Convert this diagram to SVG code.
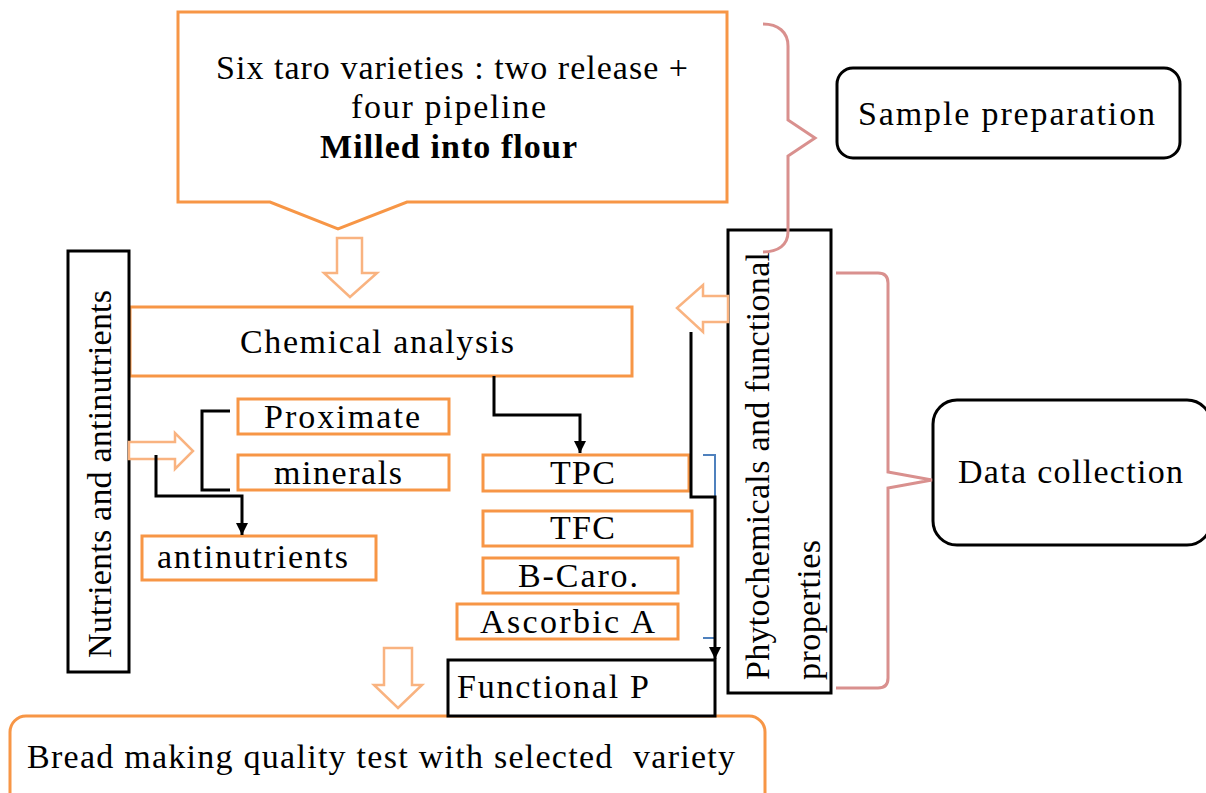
<svg xmlns="http://www.w3.org/2000/svg" width="1206" height="793" viewBox="0 0 1206 793">
<style>
  text { font-family: "Liberation Serif", "Times New Roman", serif; font-size: 34px; fill: #000; }
  .ob { fill: #fff; stroke: #F79646; stroke-width: 3; }
  .bb { fill: #fff; stroke: #000; stroke-width: 3; }
  .ha { fill: #fff; stroke: #F9B380; stroke-width: 2.5; stroke-linejoin: miter; }
  .br { fill: none; stroke: #D9908E; stroke-width: 3; }
  .cn { fill: none; stroke: #000; stroke-width: 3; }
</style>
<defs>
  <marker id="ah" markerUnits="userSpaceOnUse" markerWidth="14" markerHeight="14" refX="12" refY="6" orient="auto">
    <path d="M0,0 L12,6 L0,12 Z" fill="#000"/>
  </marker>
</defs>

<g id="top-callout">
  <path class="ob" d="M178,12 H727 V202 H407 L338,229 L270,202 H178 Z"/>
  <text x="216" y="79" textLength="472" lengthAdjust="spacing">Six taro varieties : two release +</text>
  <text x="351" y="118" textLength="195" lengthAdjust="spacing">four pipeline</text>
  <text x="320" y="158" textLength="257" lengthAdjust="spacing" font-weight="bold">Milled into flour</text>
</g>

<g id="sample-preparation">
  <rect class="bb" x="837" y="68" width="343" height="90" rx="16"/>
  <text x="858" y="125" textLength="297" lengthAdjust="spacing">Sample preparation</text>
</g>

<g id="data-collection">
  <rect class="bb" x="933" y="400" width="278" height="145" rx="24"/>
  <text x="958" y="483" textLength="225" lengthAdjust="spacing">Data collection</text>
</g>

<g id="chemical-analysis">
  <rect class="ob" x="130" y="307" width="502" height="69"/>
  <text x="240" y="353" textLength="274" lengthAdjust="spacing">Chemical analysis</text>
</g>

<g id="nutrients">
  <rect class="bb" x="68" y="251" width="61" height="421"/>
  <text transform="translate(111,658) rotate(-90)" textLength="368" lengthAdjust="spacing">Nutrients and antinutrients</text>
</g>

<g id="proximate">
  <rect class="ob" x="238" y="399" width="211" height="35"/>
  <text x="264" y="428" textLength="156" lengthAdjust="spacing">Proximate</text>
</g>

<g id="minerals">
  <rect class="ob" x="238" y="455" width="211" height="35"/>
  <text x="274" y="484" textLength="128" lengthAdjust="spacing">minerals</text>
</g>

<g id="antinutrients">
  <rect class="ob" x="142" y="536" width="234" height="44"/>
  <text x="157" y="568" textLength="191" lengthAdjust="spacing">antinutrients</text>
</g>

<g id="tpc">
  <rect class="ob" x="483" y="455" width="206" height="36"/>
  <text x="550" y="484" textLength="65" lengthAdjust="spacing">TPC</text>
</g>

<g id="tfc">
  <rect class="ob" x="483" y="511" width="209" height="35"/>
  <text x="550" y="539" textLength="65" lengthAdjust="spacing">TFC</text>
</g>

<g id="b-caro">
  <rect class="ob" x="483" y="558" width="195" height="35"/>
  <text x="518" y="587" textLength="120" lengthAdjust="spacing">B-Caro.</text>
</g>

<g id="ascorbic">
  <rect class="ob" x="457" y="604" width="221" height="35"/>
  <text x="480" y="633" textLength="175" lengthAdjust="spacing">Ascorbic A</text>
</g>

<g id="phytochemicals">
  <rect class="bb" x="728" y="230" width="103" height="463"/>
  <text transform="translate(769,680) rotate(-90)" textLength="428" lengthAdjust="spacing">Phytochemicals and functional</text>
  <text transform="translate(820,680) rotate(-90)" textLength="140" lengthAdjust="spacing">properties</text>
</g>

<g id="bread">
  <rect class="ob" x="10" y="716" width="755" height="110" rx="16"/>
  <text x="27" y="768" textLength="708" lengthAdjust="spacing" xml:space="preserve">Bread making quality test with selected  variety</text>
</g>

<g id="functional-p">
  <rect class="bb" x="448" y="660" width="267" height="56"/>
  <text x="457" y="698" textLength="192" lengthAdjust="spacing">Functional P</text>
</g>

<g id="connectors">
  <path class="ha" d="M337,238 H362 V273 H377 L350,297 L324,273 H337 Z"/>
  <path class="ha" d="M129,442 H175 V433 L193,451 L175,469 V459 H129 Z"/>
  <path class="ha" d="M728,296 H703 V285 L677,308 L703,332 V322 H728 Z"/>
  <path class="ha" d="M384,648 H412 V685 H422 L398,708 L374,685 H384 Z"/>
  <path class="cn" d="M494,376 V415 H580 V453" marker-end="url(#ah)"/>
  <path class="cn" d="M156,455 V496 H242 V535" marker-end="url(#ah)"/>
  <path class="cn" d="M230,411 H202 V490 H230"/>
  <path fill="none" stroke="#4F81BD" stroke-width="2" d="M703,455 H715 V638 H703"/>
  <path class="cn" d="M691,332 V497 H715 V659" marker-end="url(#ah)"/>
  <path class="br" d="M763,24 C778,24 788,32 788,46 V120 L815,138 L788,156 V232 C788,245 778,252 763,252"/>
  <path class="br" d="M836,273 H878 Q888,273 888,283 V472 L932,480 L888,488 V678 Q888,688 878,688 H836"/>
</g>
</svg>
